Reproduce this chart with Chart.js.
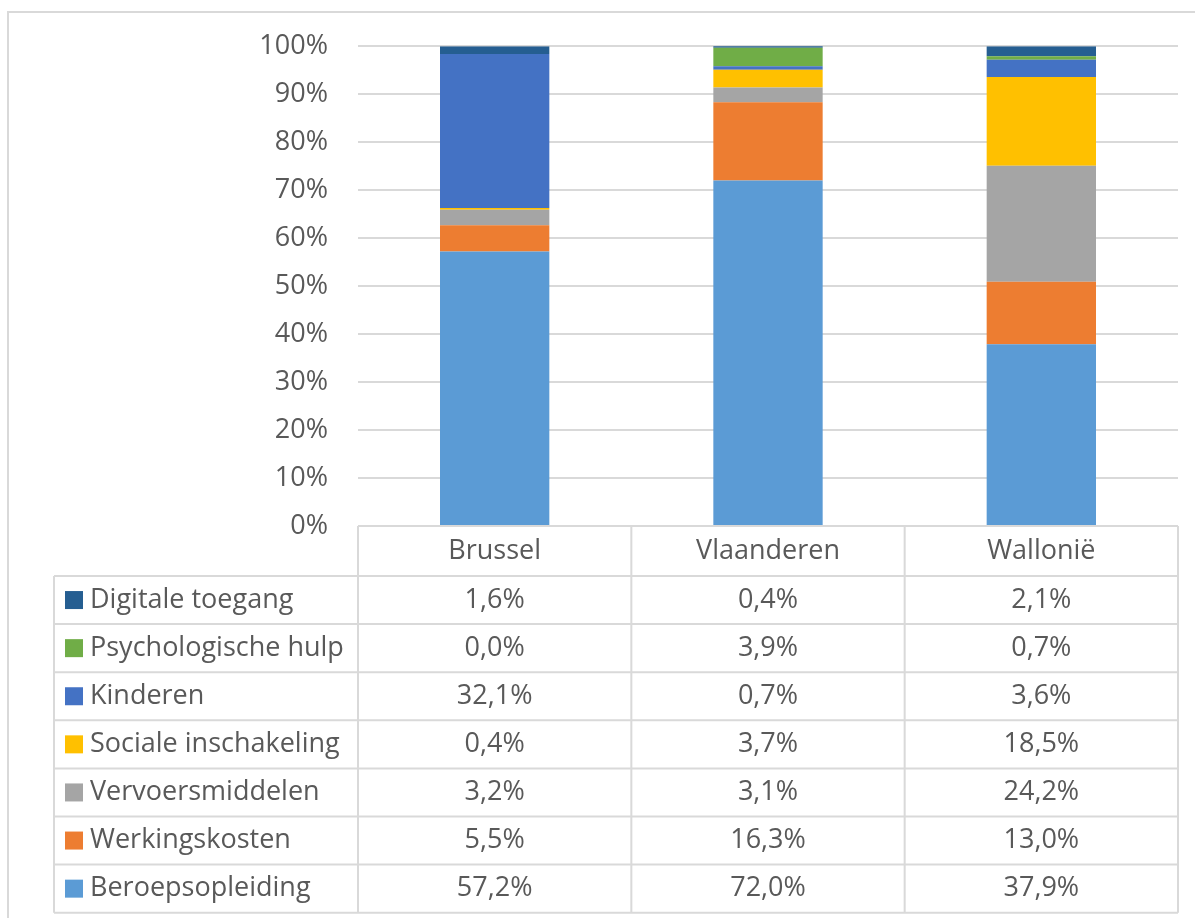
<!DOCTYPE html>
<html>
<head>
<meta charset="utf-8">
<script src="https://cdn.jsdelivr.net/npm/chart.js@4/dist/chart.umd.min.js"></script>
<style>
  body{margin:0;background:#fff;}
  #wrap{width:1195px;height:918px;position:relative;}
</style>
</head>
<body>
<div id="wrap"><canvas id="chart" width="1195" height="918"></canvas></div>
<script>
const regions = ["Brussel", "Vlaanderen", "Wallonië"];

// bottom to top in the stack
const beroepsopleiding = [57.2, 72.0, 37.9];
const werkingskosten = [5.5, 16.3, 13.0];
const vervoersmiddelen = [3.2, 3.1, 24.2];
const socialeInschakeling = [0.4, 3.7, 18.5];
const kinderen = [32.1, 0.7, 3.6];
const psychologischeHulp = [0.0, 3.9, 0.7];
const digitaleToegang = [1.6, 0.4, 2.1];

const yTicks = [0, 10, 20, 30, 40, 50, 60, 70, 80, 90, 100];

const FONT = "'Open Sans', Lato, sans-serif";
const TEXT = "#595959";
const LINE = "#d9d9d9";

const series = [
  {label:"Beroepsopleiding", data:beroepsopleiding, color:"#5B9BD5"},
  {label:"Werkingskosten", data:werkingskosten, color:"#ED7D31"},
  {label:"Vervoersmiddelen", data:vervoersmiddelen, color:"#A5A5A5"},
  {label:"Sociale inschakeling", data:socialeInschakeling, color:"#FFC000"},
  {label:"Kinderen", data:kinderen, color:"#4472C4"},
  {label:"Psychologische hulp", data:psychologischeHulp, color:"#70AD47"},
  {label:"Digitale toegang", data:digitaleToegang, color:"#255E91"}
];

const fmt = v => v.toFixed(1).replace(".", ",") + "%";

// outer frame + data table under the plot
const tablePlugin = {
  id:"dataTable",
  beforeDraw(chart){
    const ctx = chart.ctx;
    ctx.save();
    ctx.strokeStyle = LINE;
    ctx.lineWidth = 2;
    ctx.beginPath();
    ctx.moveTo(8, 918);
    ctx.lineTo(8, 12);
    ctx.lineTo(1195, 12);
    ctx.stroke();
    ctx.restore();
  },
  afterDraw(chart){
    const ctx = chart.ctx;
    const area = chart.chartArea;
    const x = chart.scales.x;
    const colW = (area.right - area.left) / regions.length;
    const headerH = 50, rowH = 48.1;
    const tableLeft = 54;
    const top = area.bottom;
    const rows = series.slice().reverse();
    const bottom = top + headerH + rows.length * rowH;

    ctx.save();
    ctx.strokeStyle = LINE;
    ctx.lineWidth = 2;
    ctx.beginPath();
    ctx.moveTo(area.left, top); ctx.lineTo(area.right, top);
    for(let i=0;i<=regions.length;i++){
      const cx = area.left + i*colW;
      ctx.moveTo(cx, top); ctx.lineTo(cx, bottom);
    }
    ctx.moveTo(tableLeft, top+headerH); ctx.lineTo(tableLeft, bottom);
    for(let r=0;r<=rows.length;r++){
      const y = top + headerH + r*rowH;
      ctx.moveTo(tableLeft, y); ctx.lineTo(area.right, y);
    }
    ctx.stroke();

    ctx.fillStyle = TEXT;
    ctx.font = "27px " + FONT;
    ctx.textBaseline = "middle";
    ctx.textAlign = "center";
    regions.forEach((r,i)=>{
      ctx.fillText(r, x.getPixelForValue(i), top + headerH/2);
    });

    rows.forEach((s,r)=>{
      const cy = top + headerH + r*rowH + rowH/2;
      ctx.fillStyle = s.color;
      ctx.fillRect(65, cy - 9, 18, 18);
      ctx.fillStyle = TEXT;
      ctx.textAlign = "left";
      ctx.fillText(s.label, 90, cy);
      ctx.textAlign = "center";
      s.data.forEach((v,i)=>{
        ctx.fillText(fmt(v), x.getPixelForValue(i), cy);
      });
    });
    ctx.restore();
  }
};

new Chart(document.getElementById("chart"), {
  type:"bar",
  data:{
    labels:regions,
    datasets:series.map(s=>({
      label:s.label,
      data:s.data,
      backgroundColor:s.color,
      borderWidth:0,
      categoryPercentage:1,
      barPercentage:0.4
    }))
  },
  options:{
    responsive:false,
    animation:false,
    layout:{padding:{left:8, top:45, right:17, bottom:392}},
    plugins:{legend:{display:false}, tooltip:{enabled:false}},
    scales:{
      x:{stacked:true, display:false},
      y:{
        stacked:true,
        min:0, max:100,
        afterBuildTicks: s => { s.ticks = yTicks.map(v=>({value:v})); },
        afterFit: s => { s.width = 350; },
        border:{display:false},
        grid:{color:LINE, lineWidth:2, drawTicks:false},
        ticks:{
          padding:30,
          color:TEXT,
          font:{family:FONT, size:27},
          callback: v => v + "%"
        }
      }
    }
  },
  plugins:[tablePlugin]
});
</script>
</body>
</html>
